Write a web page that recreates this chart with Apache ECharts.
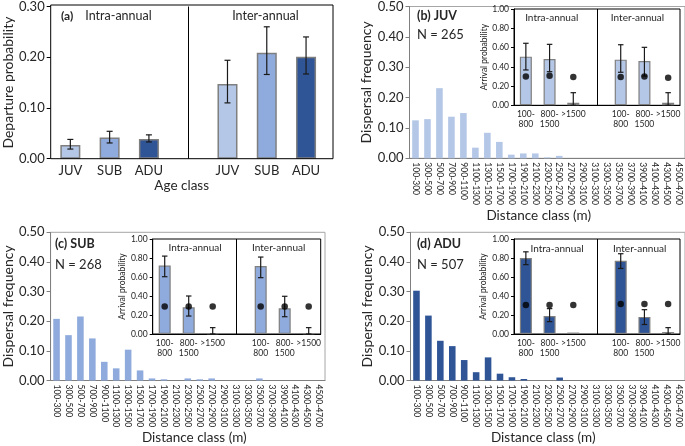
<!DOCTYPE html>
<html><head><meta charset="utf-8">
<script src="https://cdn.jsdelivr.net/npm/echarts@6/dist/echarts.min.js"></script>
<style>html,body{margin:0;padding:0;background:#fff}#c{width:685px;height:446px}</style>
</head><body><div id="c"></div>
<script>
// ---- Data ----
const ageCats = ['JUV','SUB','ADU','','JUV','SUB','ADU'];
const departMean = [0.027,0.042,0.039,null,0.147,0.209,0.201];
const departLow  = [0.019,0.031,0.033,null,0.110,0.166,0.167];
const departHigh = [0.038,0.054,0.047,null,0.194,0.260,0.240];

const distCats = ['100-300','300-500','500-700','700-900','900-1100','1100-1300','1300-1500','1500-1700','1700-1900','1900-2100','2100-2300','2300-2500','2500-2700','2700-2900','2900-3100','3100-3300','3300-3500','3500-3700','3700-3900','3900-4100','4100-4300','4300-4500','4500-4700'];
const juvFreq = [0.125,0.129,0.231,0.137,0.149,0.035,0.084,0.054,0.012,0.016,0.016,0.003,0.008,0,0,0,0,0,0,0,0,0,0];
const subFreq = [0.208,0.153,0.216,0.142,0.063,0.041,0.104,0.034,0.007,0.004,0,0.007,0.004,0.007,0,0,0,0.007,0,0,0,0,0];
const aduFreq = [0.303,0.219,0.134,0.116,0.069,0.028,0.078,0.023,0.011,0.005,0,0,0.010,0,0,0,0,0,0,0,0,0,0];

const arrCats = ['100-\n800','800-\n1500','>1500','','100-\n800','800-\n1500','>1500'];
const juvArr  = [0.505,0.481,0.027,null,0.474,0.460,0.027];
const juvLow  = [0.367,0.349,0,null,0.343,0.304,0];
const juvHigh = [0.644,0.633,0.131,null,0.629,0.602,0.131];
const juvExp  = [0.300,0.307,0.294,null,0.294,0.300,0.287];

const subArr  = [0.720,0.281,0.007,null,0.715,0.270,0.007];
const subLow  = [0.603,0.189,0,null,0.593,0.182,0];
const subHigh = [0.820,0.400,0.067,null,0.810,0.397,0.067];
const subExp  = [0.290,0.290,0.290,null,0.290,0.290,0.290];

const aduArr  = [0.800,0.190,0.015,null,0.770,0.180,0.020];
const aduLow  = [0.730,0.130,null,null,0.690,0.100,0];
const aduHigh = [0.865,0.267,null,null,0.845,0.256,0.067];
const aduExp  = [0.305,0.305,0.305,null,0.316,0.316,0.316];

const panelNames = ['(b) JUV','(c) SUB','(d) ADU'];
const panelN = ['N = 265','N = 268','N = 507'];

// ---- Styles ----
const JUV_C = '#b4c7e7', SUB_C = '#8faadc', ADU_C = '#2f5597';
const ageColors = [JUV_C, SUB_C, ADU_C, JUV_C, JUV_C, SUB_C, ADU_C];
const FONT = 'Lato';
const TXT = '#262626';
const fmt2 = v => v.toFixed(2);

const grids = [
  {left:50.7, top:5, width:275, height:153.7},
  {left:409.5, top:4.7, width:276, height:153.6, show:true, borderColor:'#a6a6a6', borderWidth:1},
  {left:514, top:9, width:166, height:96.3, show:true, borderColor:'#000', borderWidth:1, backgroundColor:'#fff'},
  {left:50, top:232.3, width:275, height:155, show:true, borderColor:'#a6a6a6', borderWidth:1},
  {left:152.7, top:239, width:168, height:95, show:true, borderColor:'#000', borderWidth:1, backgroundColor:'#fff'},
  {left:410.5, top:232.3, width:276, height:155, show:true, borderColor:'#a6a6a6', borderWidth:1},
  {left:514, top:239, width:166, height:95, show:true, borderColor:'#000', borderWidth:1, backgroundColor:'#fff'}
];

function distX(g, pad) {
  return {type:'category', gridIndex:g, data:distCats,
    axisLine:{lineStyle:{color:'#7f7f7f'}},
    axisTick:{alignWithLabel:true, length:3, lineStyle:{color:'#7f7f7f'}},
    axisLabel:{rotate:-90, interval:0, fontSize:8.5, margin:4, color:TXT, fontFamily:FONT},
    name:'Distance class (m)', nameLocation:'middle', nameGap:43,
    nameTextStyle:{fontSize:13.5, color:TXT, fontFamily:FONT, padding:pad}};
}
function distY(g) {
  return {type:'value', gridIndex:g, min:0, max:0.5, interval:0.1,
    axisLine:{show:true, lineStyle:{color:'#7f7f7f'}},
    axisTick:{show:true, length:4, lineStyle:{color:'#7f7f7f'}},
    splitLine:{show:false},
    axisLabel:{formatter:fmt2, fontSize:13, margin:6, color:TXT, fontFamily:FONT},
    name:'Dispersal frequency', nameLocation:'middle', nameGap:35,
    nameTextStyle:{fontSize:14, color:TXT, fontFamily:FONT}};
}
function insetX(g) {
  return {type:'category', gridIndex:g, data:arrCats,
    axisLine:{lineStyle:{color:'#000'}},
    axisTick:{show:false},
    axisLabel:{interval:0, fontSize:8.5, lineHeight:10, margin:4, color:TXT, fontFamily:FONT}};
}
function insetY(g, gap) {
  return {type:'value', gridIndex:g, min:0, max:1, interval:0.2,
    axisLine:{show:true, lineStyle:{color:'#000'}},
    axisTick:{show:true, length:3, lineStyle:{color:'#000'}},
    splitLine:{show:false},
    axisLabel:{formatter:fmt2, fontSize:8.5, margin:5, color:TXT, fontFamily:FONT},
    name:'Arrival probability', nameLocation:'middle', nameGap:gap,
    nameTextStyle:{fontSize:8.5, color:TXT, fontFamily:FONT}};
}

function errSeries(ax, low, high, cap) {
  const data = [];
  low.forEach((l, i) => { if (l != null && high[i] != null) data.push([i, l, high[i]]); });
  return {type:'custom', xAxisIndex:ax, yAxisIndex:ax, data, z:5, silent:true,
    encode:{x:0, y:[1,2]},
    renderItem:(params, api) => {
      const x = api.value(0);
      const p1 = api.coord([x, api.value(1)]);
      const p2 = api.coord([x, api.value(2)]);
      const h = cap / 2;
      const st = {stroke:'#1a1a1a', lineWidth:1.2};
      return {type:'group', children:[
        {type:'line', shape:{x1:p1[0], y1:p1[1], x2:p2[0], y2:p2[1]}, style:st},
        {type:'line', shape:{x1:p2[0]-h, y1:p2[1], x2:p2[0]+h, y2:p2[1]}, style:st},
        {type:'line', shape:{x1:p1[0]-h, y1:p1[1], x2:p1[0]+h, y2:p1[1]}, style:st}
      ]};
    }};
}
function divider() {
  return {symbol:'none', silent:true, label:{show:false}, animation:false,
    lineStyle:{color:'#000', type:'solid', width:1}, data:[{xAxis:3}]};
}
function insetSeries(ax, vals, low, high, exp, color) {
  return [
    {type:'bar', xAxisIndex:ax, yAxisIndex:ax, barWidth:12,
      data: vals.map(v => v == null ? '-' : v),
      itemStyle:{color, borderColor:'#7f7f7f', borderWidth:1.2},
      markLine: divider()},
    errSeries(ax, low, high, 5.5),
    {type:'scatter', xAxisIndex:ax, yAxisIndex:ax, symbol:'circle', symbolSize:6.5, z:6,
      itemStyle:{color:'#000'},
      data: exp.map((v, i) => v == null ? null : [i, v]).filter(Boolean)}
  ];
}

const xAxes = [
  {type:'category', gridIndex:0, data:ageCats,
    axisLine:{show:false}, axisTick:{show:false},
    axisLabel:{interval:0, fontSize:13, margin:6, color:TXT, fontFamily:FONT},
    name:'Age class', nameLocation:'middle', nameGap:18,
    nameTextStyle:{fontSize:13.5, color:TXT, fontFamily:FONT, padding:[0,13,0,0]}},
  distX(1, [0,17,0,0]),
  insetX(2),
  distX(3, [0,0,0,13]),
  insetX(4),
  distX(5, [0,9,0,0]),
  insetX(6)
];
const yAxes = [
  {type:'value', gridIndex:0, min:0, max:0.3, interval:0.1,
    axisLine:{show:false}, axisTick:{show:true, length:4, lineStyle:{color:'#000'}},
    splitLine:{show:false},
    axisLabel:{formatter:fmt2, fontSize:13, margin:6, color:TXT, fontFamily:FONT},
    name:'Departure probability', nameLocation:'middle', nameGap:33,
    nameTextStyle:{fontSize:14, color:TXT, fontFamily:FONT}},
  distY(1), insetY(2, 25), distY(3), insetY(4, 25), distY(5), insetY(6, 26)
];

const series = [
  {type:'bar', xAxisIndex:0, yAxisIndex:0, barWidth:20,
    data: departMean.map((v, i) => v == null ? '-' : {value:v, itemStyle:{color:ageColors[i]}}),
    itemStyle:{borderColor:'#7f7f7f', borderWidth:1.5},
    markLine: divider()},
  errSeries(0, departLow, departHigh, 6),
  {type:'bar', xAxisIndex:1, yAxisIndex:1, barWidth:'55%', data:juvFreq, itemStyle:{color:JUV_C}},
  ...insetSeries(2, juvArr, juvLow, juvHigh, juvExp, JUV_C),
  {type:'bar', xAxisIndex:3, yAxisIndex:3, barWidth:'55%', data:subFreq, itemStyle:{color:SUB_C}},
  ...insetSeries(4, subArr, subLow, subHigh, subExp, SUB_C),
  {type:'bar', xAxisIndex:5, yAxisIndex:5, barWidth:'55%', data:aduFreq, itemStyle:{color:ADU_C}},
  ...insetSeries(6, aduArr, aduLow, aduHigh, aduExp, ADU_C)
];

function txt(x, y, text, size, bold, align) {
  return {type:'text', x, y, z:100, silent:true,
    style:{text, fill:TXT, font:(bold ? 'bold ' : '') + size + 'px ' + FONT,
      align: align || 'left', verticalAlign:'middle'}};
}
const graphics = [
  {type:'rect', z:50, silent:true, shape:{x:50.7, y:5, width:282.3, height:153.7},
    style:{fill:null, stroke:'#000', lineWidth:1}},
  txt(61, 16, '(a)', 12, true),
  txt(118.5, 16, 'Intra-annual', 12.5, false, 'center'),
  txt(265.5, 16, 'Inter-annual', 12.5, false, 'center'),
  txt(417, 15.7, panelNames[0], 12.5, true),
  txt(417, 35, panelN[0], 13, false),
  txt(551.7, 17.7, 'Intra-annual', 10, false, 'center'),
  txt(637.5, 17.7, 'Inter-annual', 10, false, 'center'),
  txt(55, 244, panelNames[1], 12.5, true),
  txt(55, 265, panelN[1], 13, false),
  txt(195, 247.3, 'Intra-annual', 10, false, 'center'),
  txt(278.7, 247.3, 'Inter-annual', 10, false, 'center'),
  txt(417, 244, panelNames[2], 12.5, true),
  txt(417, 265, panelN[2], 13, false),
  txt(557, 248.3, 'Intra-annual', 10, false, 'center'),
  txt(639.7, 248.3, 'Inter-annual', 10, false, 'center')
];

const chart = echarts.init(document.getElementById('c'), null, {renderer:'canvas'});
chart.setOption({
  animation:false,
  backgroundColor:'#fff',
  textStyle:{fontFamily:FONT},
  grid:grids, xAxis:xAxes, yAxis:yAxes, series, graphic:graphics
});
</script></body></html>
